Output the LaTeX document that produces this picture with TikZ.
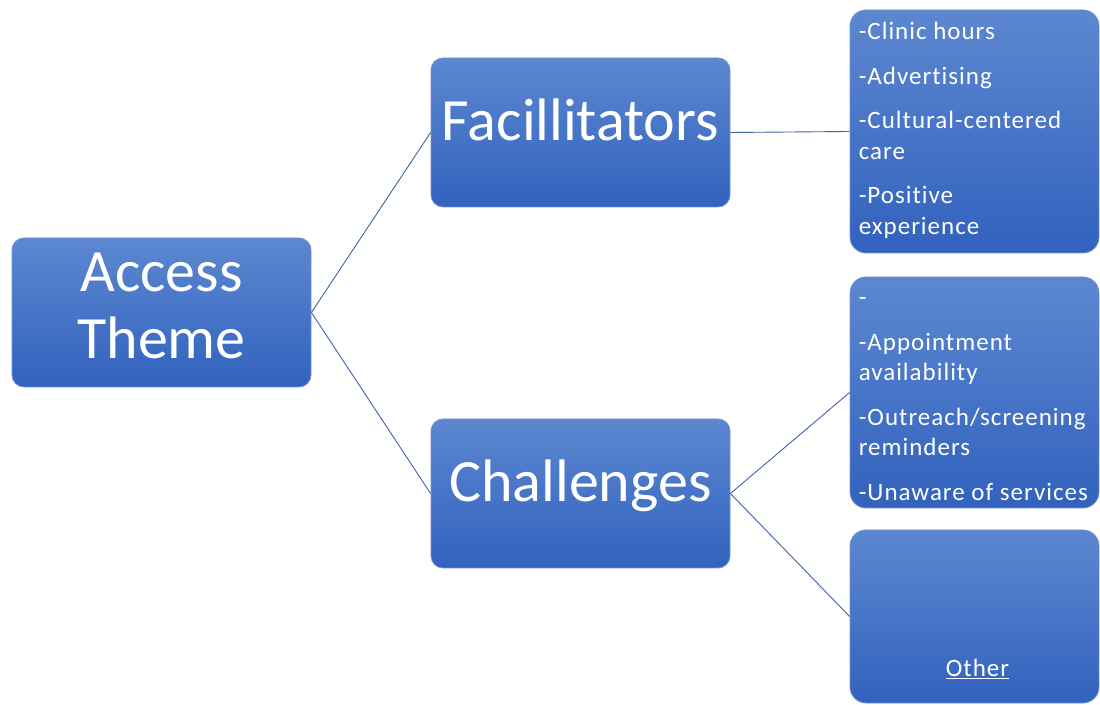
\documentclass[tikz,border=0pt]{standalone}
\usepackage{fontspec}
\setmainfont[Ligatures=NoCommon]{Carlito}
\definecolor{boxtop}{RGB}{92,135,208}
\definecolor{boxbot}{RGB}{50,98,190}
\definecolor{boxrim}{RGB}{112,146,210}
\definecolor{linkblue}{RGB}{62,98,172}
\tikzset{
  themebox/.style={rectangle, rounded corners=12pt, top color=boxtop, bottom color=boxbot,
    draw=boxrim, line width=0.8pt, inner sep=0pt, text=white,
    minimum width=299pt, minimum height=149pt},
  listbox/.style={themebox, rounded corners=16pt, minimum width=249pt},
  bigtxt/.style={text=white, inner sep=0pt, font=\fontsize{60}{67}\selectfont},
  listtxt/.style={text=white, inner sep=0pt, align=left, anchor=north west,
    font=\fontsize{25}{30.5}\selectfont\addfontfeatures{LetterSpace=4}},
  link/.style={draw=linkblue, line width=0.9pt}
}
\begin{document}
\begin{tikzpicture}[x=1pt, y=1pt]
  \useasboundingbox (0,0) rectangle (1100,704);
  % draw theme boxes
  \node[themebox] (access) at (161.5,391.5) {};
  \node[bigtxt, align=center] (accessTxt) at ([yshift=7pt]access.center) {Access\\Theme};
  \node[themebox, bigtxt, text height=40pt, text depth=24pt] (fac) at (580.5,571.5) {Facillitators};
  \node[themebox, bigtxt, text height=40pt, text depth=24pt] (chal) at (580.5,210.5) {Challenges};
  % draw list boxes on the right
  \node[listbox, minimum height=243pt] (facList) at (974.5,572.5) {};
  \node[listbox, minimum height=231pt] (chalList) at (974.5,311.5) {};
  \node[listbox, minimum height=173pt] (other) at (974.5,87.5) {};
  \node[listtxt] (facItems) at ([xshift=9pt, yshift=-10pt]facList.north west)
    {\rule{0pt}{20pt}-Clinic hours\\[14pt]-Advertising\\[14pt]-Cultural-centered\\care\\[14pt]-Positive\\experience};
  \node[listtxt] (chalItems) at ([xshift=9pt, yshift=-9pt]chalList.north west)
    {\rule{0pt}{20pt}-\\[14pt]-Appointment\\availability\\[14pt]-Outreach/screening\\reminders\\[14pt]-Unaware of services};
  \node[listtxt, anchor=base] (otherTxt) at ([xshift=3pt, yshift=27pt]other.south) {\underline{Other}};
  % connectors
  \draw[link] (access.east) -- (fac.west);
  \draw[link] (access.east) -- (chal.west);
  \draw[link] (fac.east) -- (facList.west);
  \draw[link] (chal.east) -- (chalList.west);
  \draw[link] (chal.east) -- (other.west);
\end{tikzpicture}
\end{document}
